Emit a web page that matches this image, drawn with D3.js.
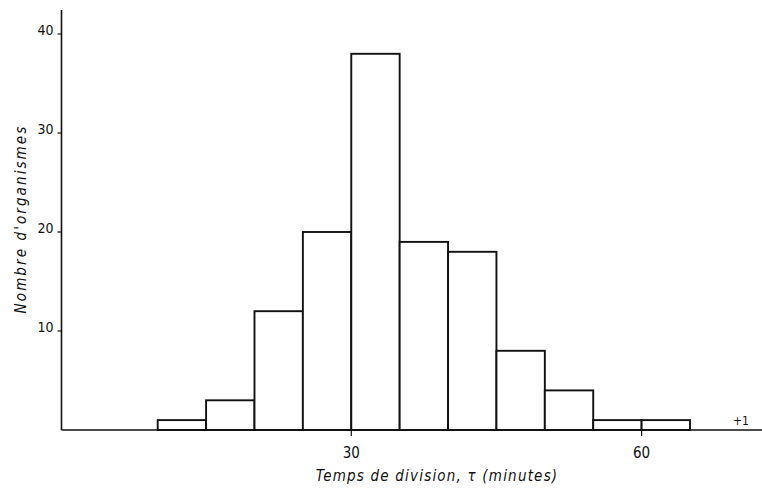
<!DOCTYPE html>
<html>
<head>
<meta charset="utf-8">
<script src="https://cdn.jsdelivr.net/npm/d3@7"></script>
<style>
  html, body { margin: 0; padding: 0; background: #fff; }
  svg { display: block; }
  text { font-family: "DejaVu Sans Condensed", "Liberation Sans Narrow", "DejaVu Sans", sans-serif; fill: #111; }
</style>
</head>
<body>
<svg id="chart" width="762" height="490"></svg>
<script>
// Division-time histogram: 5-minute bins starting at 10 min
const binStarts = [10, 15, 20, 25, 30, 35, 40, 45, 50, 55, 60];
const binWidth = 5;
const counts = [1, 3, 12, 20, 38, 19, 18, 8, 4, 1, 1];
const yTicks = [10, 20, 30, 40];
const xTicks = [30, 60];
const overflowLabel = "+1";

const svg = d3.select("#chart");

const x = d3.scaleLinear().domain([10, 65]).range([157.7, 690]);
const y = d3.scaleLinear().domain([0, 40]).range([430, 34]);

const axisX0 = 61.5, axisRight = 762, axisTop = 10;
const ink = "#111";

// bars
svg.append("g").selectAll("rect")
  .data(binStarts.map((s, i) => ({ s, c: counts[i] })))
  .join("rect")
  .attr("x", d => x(d.s))
  .attr("y", d => y(d.c))
  .attr("width", d => x(d.s + binWidth) - x(d.s))
  .attr("height", d => y(0) - y(d.c))
  .attr("fill", "#fff")
  .attr("stroke", ink)
  .attr("stroke-width", 1.9);

// axes lines
svg.append("line")
  .attr("x1", axisX0).attr("x2", axisX0)
  .attr("y1", axisTop).attr("y2", y(0))
  .attr("stroke", ink).attr("stroke-width", 1.6);
svg.append("line")
  .attr("x1", axisX0).attr("x2", axisRight)
  .attr("y1", y(0)).attr("y2", y(0))
  .attr("stroke", ink).attr("stroke-width", 1.6);

// y ticks and labels
const yg = svg.append("g");
yg.selectAll("line").data(yTicks).join("line")
  .attr("x1", axisX0 - 4).attr("x2", axisX0)
  .attr("y1", d => y(d)).attr("y2", d => y(d))
  .attr("stroke", ink).attr("stroke-width", 1.2);
yg.selectAll("text").data(yTicks).join("text")
  .attr("x", axisX0 - 8)
  .attr("y", d => y(d) + 0.5)
  .attr("text-anchor", "end")
  .attr("font-size", 14)
  .text(d => d);

// x ticks and labels
const xg = svg.append("g");
xg.selectAll("line").data(xTicks).join("line")
  .attr("x1", d => x(d)).attr("x2", d => x(d))
  .attr("y1", y(0)).attr("y2", y(0) + 6)
  .attr("stroke", ink).attr("stroke-width", 1.2);
xg.selectAll("text").data(xTicks).join("text")
  .attr("x", d => x(d))
  .attr("y", y(0) + 28)
  .attr("text-anchor", "middle")
  .attr("font-size", 15)
  .text(d => d);

// overflow count beyond the last bin
svg.append("text")
  .attr("x", 741).attr("y", y(0) - 5)
  .attr("text-anchor", "middle")
  .attr("font-size", 12)
  .text(overflowLabel);

// axis titles
svg.append("text")
  .attr("x", 437).attr("y", 481)
  .attr("text-anchor", "middle")
  .attr("font-size", 15)
  .attr("font-style", "italic")
  .attr("letter-spacing", 1.2)
  .text("Temps de division, τ (minutes)");

svg.append("text")
  .attr("transform", "translate(26,219) rotate(-90)")
  .attr("text-anchor", "middle")
  .attr("font-size", 15)
  .attr("font-style", "italic")
  .attr("letter-spacing", 2.1)
  .text("Nombre d'organismes");
</script>
</body>
</html>
